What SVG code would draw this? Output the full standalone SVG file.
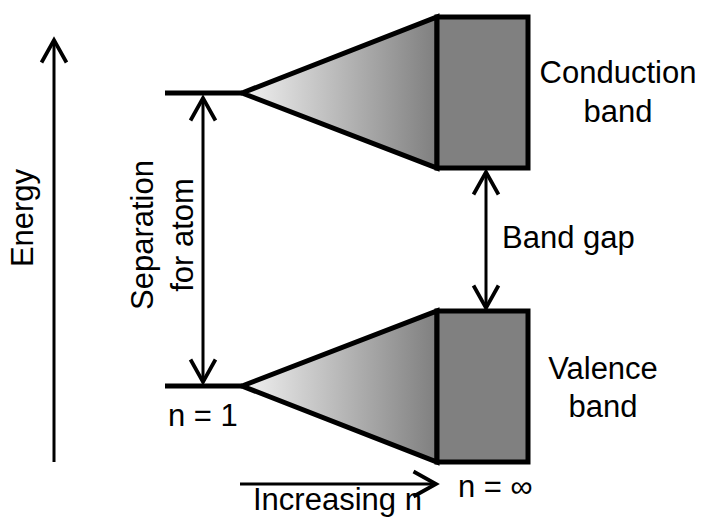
<svg xmlns="http://www.w3.org/2000/svg" width="701" height="518" viewBox="0 0 701 518">
<style>
text{font-family:"Liberation Sans",Arial,sans-serif;font-size:31px;fill:#000}
.band{stroke:#000;stroke-width:5;stroke-linejoin:miter}
.lvl{stroke:#000;stroke-width:5;fill:none}
.arr{stroke:#000;stroke-width:3;fill:none}
</style>
<defs>
<linearGradient id="g" x1="0" y1="0" x2="1" y2="0">
<stop offset="0" stop-color="#f2f2f2"/>
<stop offset="1" stop-color="#7f7f7f"/>
</linearGradient>
<marker id="ah" markerUnits="userSpaceOnUse" markerWidth="30" markerHeight="30" viewBox="-20 -12 24 24" refX="0" refY="0" orient="auto-start-reverse">
<path d="M-18,-10 L0,0 L-18,10" fill="none" stroke="#000" stroke-width="3"/>
</marker>
</defs>
<g id="conduction">
<line class="lvl" x1="165" y1="93" x2="242" y2="93"/>
<polygon class="band" points="242,93 437,17 437,168" fill="url(#g)"/>
<rect class="band" x="437" y="17" width="91" height="151" fill="#808080"/>
<text x="618" y="83" text-anchor="middle">Conduction</text>
<text x="618" y="122" text-anchor="middle">band</text>
</g>
<g id="valence">
<line class="lvl" x1="165" y1="386" x2="242" y2="386"/>
<polygon class="band" points="242,386 437,311 437,462" fill="url(#g)"/>
<rect class="band" x="437" y="311" width="91" height="151" fill="#808080"/>
<text x="603" y="379" text-anchor="middle">Valence</text>
<text x="603" y="417" text-anchor="middle">band</text>
</g>
<g id="labels">
<text x="168" y="426">n = 1</text>
<text x="458" y="497">n = ∞</text>
<text x="253" y="510">Increasing n</text>
<text x="502" y="248">Band gap</text>
<text transform="translate(33,218) rotate(-90)" text-anchor="middle">Energy</text>
<text transform="translate(153,235) rotate(-90)" text-anchor="middle">Separation</text>
<text transform="translate(193,235) rotate(-90)" text-anchor="middle">for atom</text>
</g>
<g id="connectors">
<line class="arr" x1="54" y1="462" x2="54" y2="40" marker-end="url(#ah)"/>
<line class="arr" x1="203" y1="98" x2="203" y2="382" marker-start="url(#ah)" marker-end="url(#ah)"/>
<line class="arr" x1="486" y1="172" x2="486" y2="308" marker-start="url(#ah)" marker-end="url(#ah)"/>
<line class="arr" x1="240" y1="484" x2="436" y2="484" marker-end="url(#ah)"/>
</g>
</svg>
